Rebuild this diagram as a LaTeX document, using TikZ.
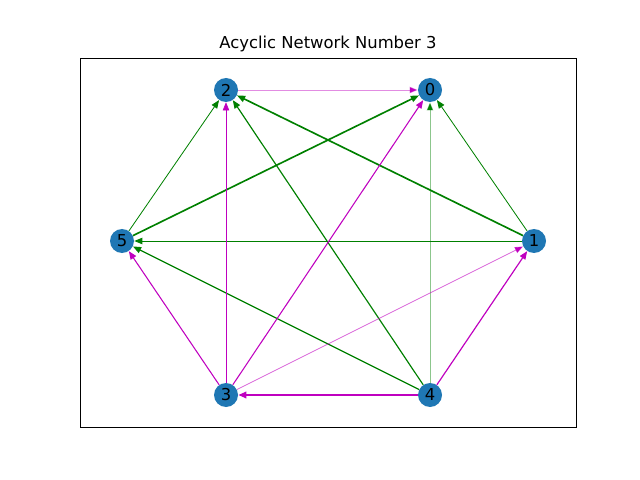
\documentclass[tikz,border=0pt]{standalone}
\usepackage{fontspec}
\setmainfont{DejaVu Sans}
\usetikzlibrary{arrows.meta}
\definecolor{nodeblue}{HTML}{1F77B4}
\definecolor{pos}{HTML}{008000}
\definecolor{neg}{HTML}{BF00BF}

\begin{document}
\begin{tikzpicture}[x=0.03cm,y=-0.03cm,font=\fontsize{14}{16}\selectfont,
  vert/.style={circle,fill=nodeblue,minimum size=0.72cm,inner sep=0pt},
  edge/.style={-{Triangle[length=7pt,width=5.5pt]},line width=#1},
  edge/.default=0.8pt]
  \useasboundingbox (0,0) rectangle (640,480);
  \draw[line width=0.8pt] (80,58) rectangle (576,427);
  \node (title) at (328,44) {Acyclic Network Number 3};
  \foreach \n/\x/\y in {0/430/90,1/534/241,2/226/90,3/226/395,4/430/395,5/122/241}
    \node[vert] (v\n) at (\x,\y) {\n};
  % green edges
  \foreach \a/\b/\w in {1/2/1.4pt,1/0/0.7pt,1/5/0.8pt,5/2/0.7pt,5/0/1.4pt,4/2/1pt,4/5/1pt}
    \draw[edge=\w,color=pos] (v\a) -- (v\b);
  \draw[edge=0.8pt,color=pos,draw opacity=0.45] (v4) -- (v0);
  % magenta edges
  \foreach \a/\b/\w in {3/2/0.6pt,3/0/0.9pt,3/5/0.9pt,4/3/1.8pt,4/1/1pt}
    \draw[edge=\w,color=neg] (v\a) -- (v\b);
  \draw[edge=0.8pt,color=neg,draw opacity=0.45] (v2) -- (v0);
  \draw[edge=0.7pt,color=neg,draw opacity=0.6] (v3) -- (v1);
\end{tikzpicture}
\end{document}
